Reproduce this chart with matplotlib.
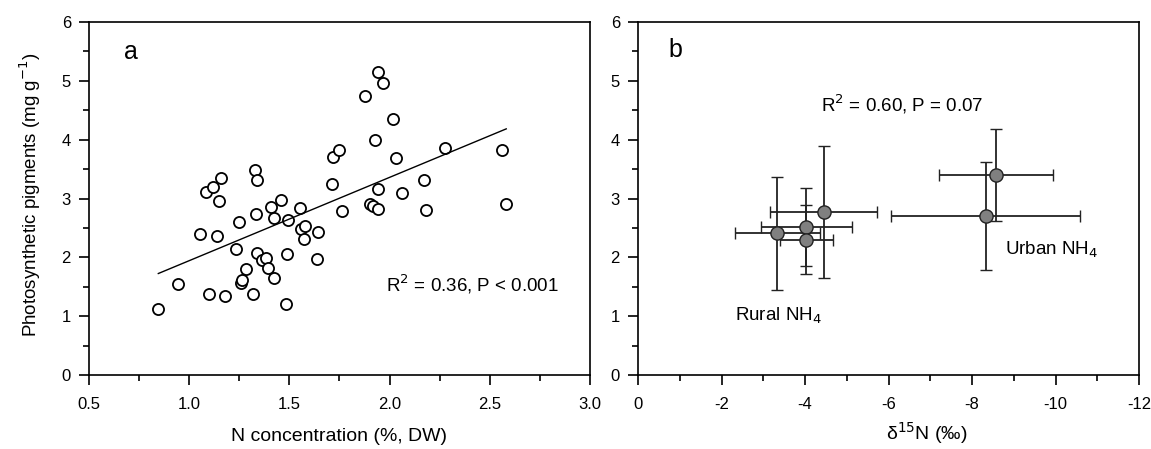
import matplotlib
import matplotlib.pyplot as plt
import numpy as np
from matplotlib.ticker import MultipleLocator

matplotlib.use("Agg")
plt.rcParams["font.family"] = ["Liberation Sans", "DejaVu Sans"]
plt.rcParams["axes.unicode_minus"] = False

# Panel a: leaf N concentration vs photosynthetic pigments
n_conc = [0.846, 0.946, 1.098, 1.178, 1.055, 1.082, 1.117, 1.157, 1.150, 1.141,
          1.235, 1.251, 1.258, 1.264, 1.283, 1.317, 1.328, 1.337, 1.333, 1.339,
          1.365, 1.385, 1.394, 1.424, 1.406, 1.421, 1.460, 1.481, 1.490, 1.492,
          1.551, 1.560, 1.578, 1.571, 1.640, 1.642, 1.712, 1.719, 1.746, 1.763,
          1.879, 1.903, 1.917, 1.940, 1.929, 1.940, 1.942, 1.969, 2.017, 2.031,
          2.060, 2.172, 2.181, 2.274, 2.563, 2.582]
pigments = [1.13, 1.54, 1.38, 1.35, 2.40, 3.11, 3.20, 3.35, 2.96, 2.36,
            2.15, 2.60, 1.56, 1.61, 1.81, 1.38, 3.49, 3.31, 2.74, 2.08,
            1.95, 1.99, 1.82, 1.65, 2.86, 2.67, 2.97, 1.20, 2.06, 2.63,
            2.84, 2.49, 2.54, 2.31, 1.97, 2.43, 3.24, 3.70, 3.82, 2.78,
            4.75, 2.90, 2.87, 2.83, 3.99, 3.16, 5.15, 4.96, 4.35, 3.68,
            3.09, 3.32, 2.80, 3.86, 3.82, 2.91]

# Panel b: d15N of NH4 vs pigments (mean +/- SD)
d15n = [-3.34, -4.03, -4.03, -4.45, -8.33, -8.58]
d15n_err = [1.02, 1.09, 0.64, 1.28, 2.26, 1.36]
pig_mean = [2.41, 2.52, 2.30, 2.77, 2.70, 3.40]
pig_err = [0.96, 0.66, 0.59, 1.12, 0.92, 0.78]

fig = plt.figure(figsize=(11.51, 4.49), dpi=100)
ax1 = fig.add_axes([0.0773, 0.1648, 0.4353, 0.7862])
ax2 = fig.add_axes([0.5543, 0.1648, 0.4353, 0.7862])

ax1.plot(n_conc, pigments, "o", mfc="white", mec="black", mew=1.3, ms=8)
slope, intercept = np.polyfit(n_conc, pigments, 1)
xfit = np.array([min(n_conc), max(n_conc)])
ax1.plot(xfit, slope * xfit + intercept, color="black", lw=1)
ax1.set_xlim(0.5, 3.0)
ax1.set_ylim(0, 6)
ax1.xaxis.set_major_locator(MultipleLocator(0.5))
ax1.xaxis.set_minor_locator(MultipleLocator(0.25))
ax1.xaxis.set_major_formatter(matplotlib.ticker.FormatStrFormatter("%.1f"))
ax1.set_xlabel("N concentration (%, DW)", fontsize=14, va="center")
ax1.xaxis.set_label_coords(0.5, -0.173)
ax1.set_ylabel("Photosynthetic pigments (mg g$^{-1}$)", fontsize=13.5, va="center")
ax1.yaxis.set_label_coords(-0.118, 0.51)
ax1.text(0.675, 5.49, "a", fontsize=18, va="center")
ax1.text(1.98, 1.54, "R$^2$ = 0.36, P < 0.001", fontsize=13.5, va="center")

ax2.errorbar(d15n, pig_mean, xerr=d15n_err, yerr=pig_err, fmt="o",
             mfc="#808080", mec="#222222", mew=1, ms=9.5, ecolor="#222222",
             elinewidth=1.3, capsize=4, capthick=1.3)
ax2.set_xlim(0, -12)
ax2.set_ylim(0, 6)
ax2.xaxis.set_major_locator(MultipleLocator(2))
ax2.xaxis.set_minor_locator(MultipleLocator(1))
ax2.set_xlabel("\u03b4$^{15}$N (\u2030)", fontsize=14, va="center")
ax2.xaxis.set_label_coords(0.577, -0.165)
ax2.text(-0.73, 5.52, "b", fontsize=18, va="center")
ax2.text(-4.38, 4.60, "R$^2$ = 0.60, P = 0.07", fontsize=13.5, va="center")
ax2.text(-8.79, 2.12, "Urban NH$_4$", fontsize=13.5, va="center")
ax2.text(-2.33, 1.01, "Rural NH$_4$", fontsize=13.5, va="center")

for ax in (ax1, ax2):
    ax.yaxis.set_major_locator(MultipleLocator(1))
    ax.yaxis.set_minor_locator(MultipleLocator(0.5))
    ax.tick_params(which="both", direction="out", labelsize=12, width=1.2)
    ax.tick_params(which="major", length=7)
    ax.tick_params(which="minor", length=4.5)
    ax.tick_params(axis="x", which="major", pad=9)
    ax.tick_params(axis="y", which="major", pad=6)
    for s in ax.spines.values():
        s.set_linewidth(1.2)

fig.savefig("out.png", dpi=100)
